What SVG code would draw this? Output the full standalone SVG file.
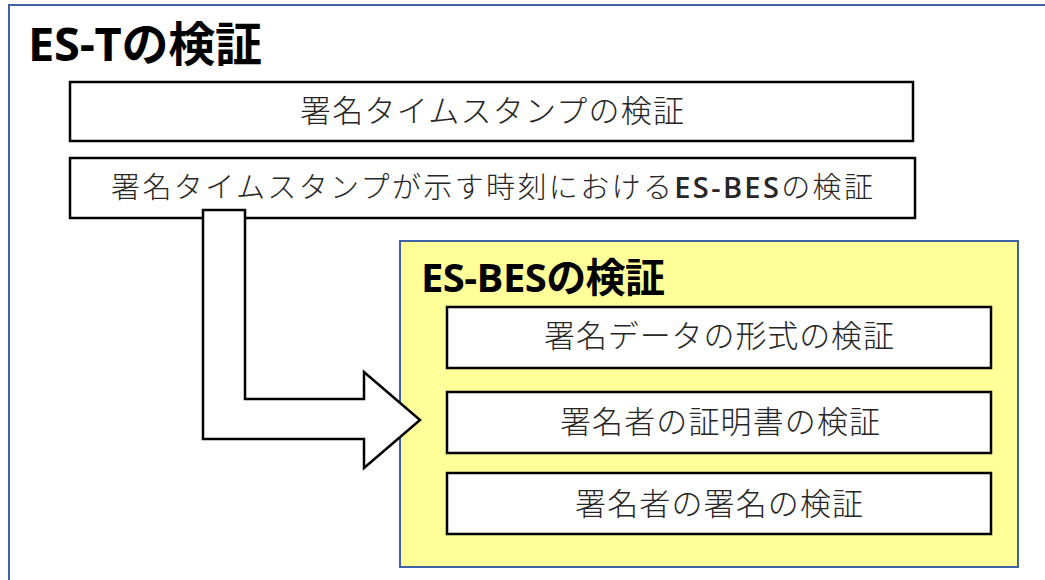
<svg xmlns="http://www.w3.org/2000/svg" width="1045" height="580" viewBox="0 0 1045 580">
  <style>
    .frame { fill: #ffffff; stroke: #3f63a6; stroke-width: 2; }
    .group { fill: #ffff99; stroke: #3f63a6; stroke-width: 2; }
    .box { fill: #ffffff; stroke: #000000; stroke-width: 2.5; }
    .arrow { fill: #ffffff; stroke: #000000; stroke-width: 2.5; stroke-linejoin: miter; }
    .title { font-family: "Open Sans", "Noto Sans CJK JP", sans-serif; font-weight: bold; fill: #000000; }
    .label { font-family: "Open Sans", "Noto Sans CJK JP", sans-serif; font-weight: 300; fill: #262626; text-anchor: middle; }
    .latin { font-weight: 600; }
  </style>
  <rect width="1045" height="580" fill="#ffffff"/>

  <g id="es-t">
    <rect class="frame" x="9" y="5" width="1060" height="600"/>
    <text class="title" x="28" y="61" font-size="47" textLength="234" lengthAdjust="spacing">ES-Tの検証</text>
  </g>

  <g id="ts-verify">
    <rect class="box" x="70" y="82" width="843" height="59"/>
    <text class="label" x="492" y="122" font-size="31" textLength="384" lengthAdjust="spacing">署名タイムスタンプの検証</text>
  </g>

  <g id="bes-at-time">
    <rect class="box" x="70" y="158" width="845" height="60"/>
    <text class="label" x="492" y="198" font-size="29" textLength="762" lengthAdjust="spacing">署名タイムスタンプが示す時刻における<tspan class="latin">ES-BES</tspan>の検証</text>
  </g>

  <g id="es-bes">
    <rect class="group" x="400" y="241" width="618" height="326"/>
    <text class="title" x="421" y="292" font-size="40" textLength="244" lengthAdjust="spacing">ES-BESの検証</text>
  </g>

  <g id="format-verify">
    <rect class="box" x="447" y="307" width="544" height="61"/>
    <text class="label" x="719" y="347" font-size="31" textLength="350" lengthAdjust="spacing">署名データの形式の検証</text>
  </g>

  <g id="cert-verify">
    <rect class="box" x="447" y="392" width="544" height="61"/>
    <text class="label" x="720" y="433" font-size="31" textLength="320" lengthAdjust="spacing">署名者の証明書の検証</text>
  </g>

  <g id="sig-verify">
    <rect class="box" x="447" y="473" width="544" height="61"/>
    <text class="label" x="719" y="515" font-size="31" textLength="288" lengthAdjust="spacing">署名者の署名の検証</text>
  </g>

  <g id="connectors">
    <path class="arrow" d="M203,210 L245,210 L245,399 L364,399 L364,372 L420,420 L364,468 L364,439 L203,439 Z"/>
  </g>
</svg>
